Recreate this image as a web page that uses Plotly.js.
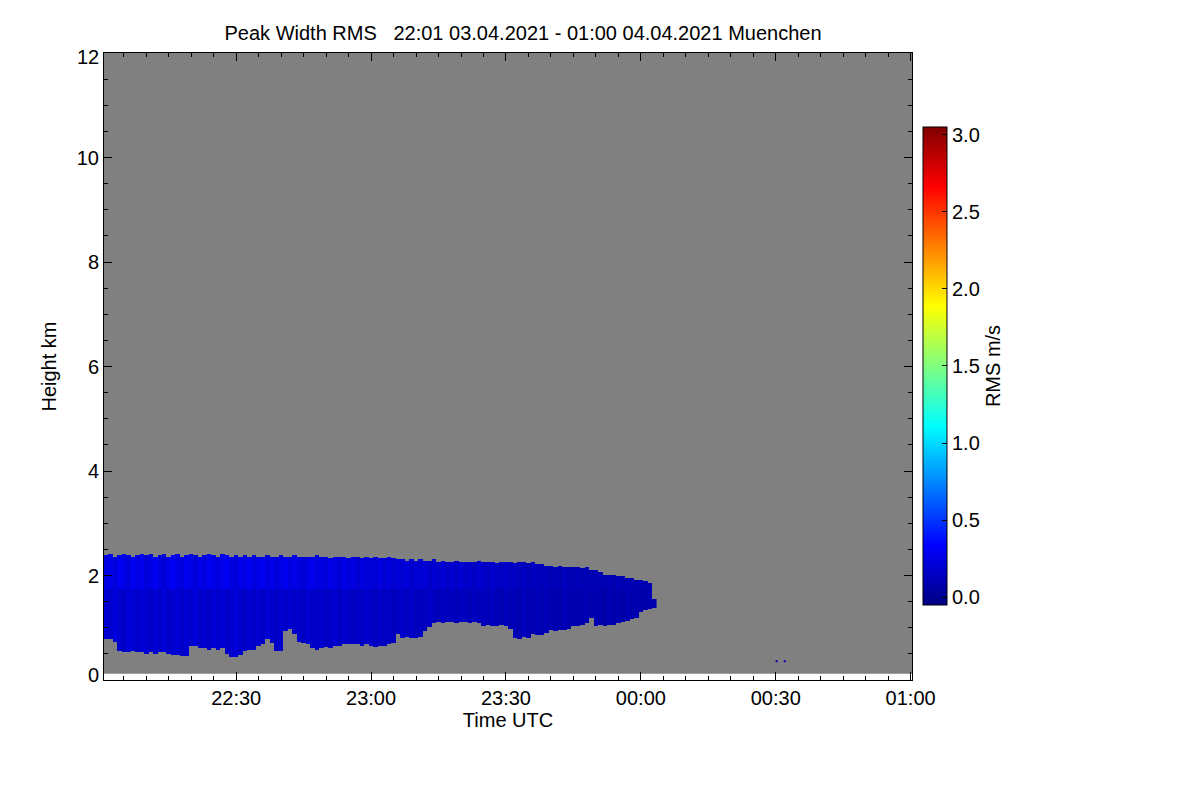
<!DOCTYPE html>
<html>
<head>
<meta charset="utf-8">
<script src="https://cdn.plot.ly/plotly-3.0.1.min.js"></script>
<style>html,body{margin:0;padding:0;background:#fff;}#chart{width:1200px;height:800px;}</style>
</head>
<body>
<div id="chart"></div>
<script>
// Time axis: minutes after 22:00 UTC
const tickMinutes = [30, 60, 90, 120, 150, 180];
const tickLabels = ['22:30', '23:00', '23:30', '00:00', '00:30', '01:00'];
const heightTicks = [0, 2, 4, 6, 8, 10, 12];

// Layer columns: one per minute from 22:01 to 00:03
const tops = [
  2.38,2.40,2.37,2.39,2.41,2.38,2.36,2.39,
  2.40,2.38,2.41,2.37,2.39,2.40,2.36,2.38,2.41,
  2.37,2.39,2.40,2.38,2.36,2.39,2.41,2.38,2.37,2.40,2.38,2.36,2.39,2.37,
  2.38,2.36,2.39,2.37,2.35,2.38,2.36,2.37,2.39,2.36,2.35,2.38,2.36,2.37,2.35,2.36,2.38,2.35,2.36,2.34,2.37,2.35,2.36,2.34,2.35,2.36,2.33,2.35,2.34,2.36,2.33,2.34,2.35,
  2.33,2.31,2.30,2.29,2.31,2.28,2.30,2.29,2.28,2.30,2.27,
  2.28,2.27,2.26,2.28,2.27,2.25,2.27,2.26,2.28,2.25,2.27,2.26,2.24,2.26,2.25,2.27,2.24,2.25,2.26,2.23,2.25,2.22,
  2.21,2.19,2.18,2.17,2.18,2.16,2.17,2.15,2.16,2.14,2.15,2.12,2.10,
  2.05,2.02,2.00,2.01,1.98,1.99,1.97,1.95,
  1.92,1.90,1.88,1.86,
  1.56
];
const bottoms = [
  0.80,0.78,0.75,
  0.56,0.55,0.54,0.56,0.53,
  0.53,0.52,0.54,0.51,0.53,0.55,0.52,0.50,0.49,
  0.46,0.47,
  0.66,0.67,0.62,
  0.61,0.60,0.62,0.59,0.61,0.52,
  0.45,0.44,0.50,
  0.57,0.58,0.60,
  0.66,0.70,
  0.80,0.72,
  0.56,0.57,
  0.95,1.00,0.90,
  0.75,0.72,0.68,
  0.62,0.60,0.61,0.63,0.62,
  0.67,0.66,0.68,
  0.69,0.70,0.69,
  0.67,0.68,0.66,
  0.65,0.67,0.66,0.70,
  0.72,0.88,
  0.82,0.83,0.81,0.82,0.84,0.95,
  1.01,1.10,1.11,1.10,1.12,1.11,1.10,1.11,1.12,1.10,1.11,1.08,
  1.05,1.06,1.05,1.04,1.06,1.05,0.98,
  0.82,0.80,0.83,0.81,
  0.88,0.86,
  0.86,0.92,
  0.96,0.95,0.97,0.96,1.00,
  1.05,1.04,1.06,1.10,
  1.20,
  1.05,1.06,1.05,1.07,1.06,1.08,1.12,
  1.15,1.16,1.20,
  1.32,1.34,1.36,
  1.40
];
// RMS (m/s) in the upper and lower part of each column
const upperVals = [
  0.24,0.27,0.22,0.29,0.26,0.23,0.31,0.25,0.28,0.22,
  0.26,0.30,0.24,0.21,0.27,0.32,0.25,0.23,0.29,0.26,
  0.22,0.28,0.24,0.30,0.26,0.23,0.27,0.31,0.24,0.22,
  0.27,0.25,0.29,0.23,0.26,0.30,0.24,0.28,0.22,0.25,
  0.29,0.23,0.27,0.24,0.21,0.26,0.28,0.23,0.25,0.22,
  0.27,0.24,0.21,0.26,0.23,0.25,0.20,0.24,0.22,0.23,
  0.21,0.24,0.20,0.23,0.19,0.22,0.20,0.23,0.18,0.21,
  0.19,0.22,0.17,0.20,0.18,0.21,0.16,0.19,0.17,0.20,
  0.16,0.18,0.15,0.19,0.17,0.14,0.18,0.16,0.15,0.17,
  0.14,0.16,0.13,0.15,0.12,0.14,0.13,0.12,0.13,0.11,
  0.12,0.10,0.13,0.11,0.10,0.12,0.10,0.11,0.10,0.11,
  0.11,0.10,0.11,0.09,0.12,0.10,0.11,0.09,0.10,0.11,
  0.09,0.10,0.12
];
const lowerVals = [
  0.21,0.18,0.23,0.19,0.16,0.22,0.20,0.17,0.21,0.19,
  0.16,0.20,0.18,0.22,0.17,0.19,0.21,0.16,0.20,0.18,
  0.22,0.17,0.19,0.16,0.21,0.18,0.20,0.17,0.19,0.22,
  0.18,0.16,0.20,0.17,0.19,0.15,0.21,0.18,0.16,0.19,
  0.17,0.20,0.16,0.18,0.15,0.19,0.17,0.16,0.18,0.15,
  0.17,0.19,0.15,0.18,0.16,0.14,0.17,0.15,0.18,0.16,
  0.15,0.17,0.14,0.16,0.13,0.15,0.17,0.14,0.16,0.13,
  0.15,0.13,0.16,0.14,0.12,0.15,0.13,0.14,0.12,0.15,
  0.13,0.11,0.14,0.12,0.13,0.11,0.14,0.12,0.10,0.13,
  0.11,0.12,0.10,0.13,0.11,0.09,0.12,0.10,0.11,0.09,
  0.10,0.08,0.11,0.09,0.10,0.08,0.09,0.11,0.08,0.10,
  0.09,0.07,0.10,0.08,0.09,0.07,0.10,0.08,0.09,0.07,
  0.08,0.10,0.09
];
const bandSplit = 1.75;      // km, boundary between upper and lower parts
const firstMinute = 1;       // 22:01
const heightMin = 0.12;      // lowest range gate (km)
const heightMax = 12;
const dotMinutes = [150.2, 152.0];
const dotHeights = [0.36, 0.36];
const dotVals = [0.1, 0.1];

// build the grid
const minutes = tops.map((_, i) => firstMinute + i);
const heights = [];
for (let h = 0.30; h <= 2.46; h += 0.025) heights.push(+h.toFixed(3));
const z = heights.map(h => minutes.map((_, i) =>
  (h >= bottoms[i] && h <= tops[i]) ? (h >= bandSplit ? upperVals[i] : lowerVals[i]) : null));

const jet = [[0,'rgb(0,0,131)'],[0.125,'rgb(0,0,255)'],[0.375,'rgb(0,255,255)'],
             [0.625,'rgb(255,255,0)'],[0.875,'rgb(255,0,0)'],[1,'rgb(128,0,0)']];

const FONT = 'Liberation Sans, Arial, Helvetica, sans-serif';
const tickFont = {family: FONT, size: 20, color: '#000'};

const traces = [{
  type: 'heatmap', x: minutes, y: heights, z: z,
  colorscale: jet, zmin: -0.05, zmax: 3.05, zsmooth: false,
  hoverinfo: 'skip',
  colorbar: {
    x: 1.0136, xanchor: 'left', xpad: 0, y: 0.5008, yanchor: 'middle', ypad: 0,
    len: 0.762, lenmode: 'fraction', thickness: 24, thicknessmode: 'pixels',
    outlinewidth: 1, outlinecolor: '#000',
    tickmode: 'linear', tick0: 0, dtick: 0.5, tickformat: '.1f',
    ticks: 'inside', ticklen: 5, tickcolor: '#000',
    tickfont: tickFont,
    title: {text: 'RMS m/s', side: 'right', font: tickFont}
  }
}, {
  type: 'scatter', mode: 'markers', x: dotMinutes, y: dotHeights,
  marker: {size: 2, color: dotVals, colorscale: jet, cmin: -0.05, cmax: 3.05, symbol: 'square'},
  hoverinfo: 'skip', showlegend: false
}];

// interior height labels through the axis; the two end labels sit just inside, as in the original
const innerTicks = heightTicks.slice(1, -1);
const endLabels = [
  {value: heightTicks[0], y: heightTicks[0] + 0.1},
  {value: heightTicks[heightTicks.length - 1], y: heightTicks[heightTicks.length - 1] - 0.08}
];

const layout = {
  width: 1200, height: 800,
  margin: {l: 104, r: 288, t: 53, b: 120},
  paper_bgcolor: '#fff', plot_bgcolor: '#fff',
  font: tickFont,
  showlegend: false,
  title: {
    text: 'Peak Width RMS   22:01 03.04.2021 - 01:00 04.04.2021 Muenchen',
    font: tickFont,
    xref: 'paper', x: 0.5186, xanchor: 'center',
    yref: 'container', y: 0.9588, yanchor: 'middle'
  },
  xaxis: {
    range: [0.6, 180.3], showgrid: false, zeroline: false,
    showline: true, linecolor: '#000', linewidth: 1, mirror: 'ticks',
    ticks: 'inside', ticklen: 8, tickcolor: '#000',
    tickmode: 'array', tickvals: tickMinutes, ticktext: tickLabels,
    minor: {tickmode: 'linear', tick0: 0, dtick: 5, ticks: 'inside', ticklen: 4, tickcolor: '#000'},
    title: {text: 'Time UTC', standoff: 2, font: tickFont}
  },
  yaxis: {
    range: [0, heightMax], showgrid: false, zeroline: false,
    showline: true, linecolor: '#000', linewidth: 1, mirror: 'ticks',
    ticks: 'inside', ticklen: 8, tickcolor: '#000',
    tickmode: 'array', tickvals: innerTicks,
    minor: {tickmode: 'linear', tick0: 0, dtick: 0.5, ticks: 'inside', ticklen: 4, tickcolor: '#000'},
    title: {text: 'Height km', standoff: 14, font: tickFont}
  },
  annotations: endLabels.map(l => ({
    text: String(l.value), xref: 'paper', x: 0, xanchor: 'right', xshift: -3,
    yref: 'y', y: l.y, yanchor: 'middle', showarrow: false, font: tickFont
  })),
  shapes: [{
    type: 'rect', xref: 'paper', x0: 0, x1: 1, yref: 'y', y0: heightMin, y1: heightMax,
    fillcolor: '#808080', line: {width: 0}, layer: 'below'
  }]
};

Plotly.newPlot('chart', traces, layout, {staticPlot: true, displayModeBar: false});
</script>
</body>
</html>
